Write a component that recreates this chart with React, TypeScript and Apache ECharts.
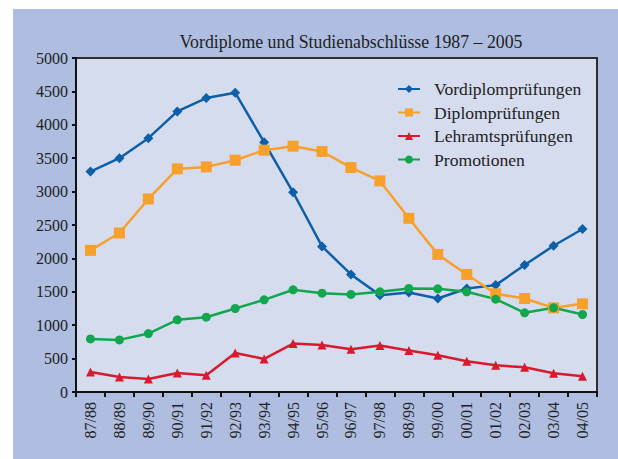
import React, { useEffect, useRef } from "react";
import * as echarts from "echarts";

const categories = ["87/88","88/89","89/90","90/91","91/92","92/93","93/94","94/95","95/96","96/97","97/98","98/99","99/00","00/01","01/02","02/03","03/04","04/05"];
const vordiplom = [3300,3500,3800,4200,4400,4480,3740,2990,2180,1760,1450,1490,1400,1550,1600,1900,2190,2440];
const diplom = [2120,2380,2890,3340,3370,3470,3620,3680,3600,3360,3160,2600,2060,1760,1470,1400,1260,1320];
const lehramt = [300,225,195,285,250,585,495,725,705,640,695,620,550,460,400,370,280,235];
const promotionen = [795,780,875,1080,1120,1250,1380,1530,1480,1460,1500,1550,1545,1500,1390,1185,1260,1160];
const yTicks = [0,500,1000,1500,2000,2500,3000,3500,4000,4500,5000];

const FONT = "Liberation Serif";

export default function App() {
  const ref = useRef<HTMLDivElement>(null);
  useEffect(() => {
    const chart = echarts.init(ref.current!, null, { renderer: "svg" });
    const mk = (name: string, data: number[], color: string, symbol: string, size: number) => ({
      name, type: "line", data, symbol, symbolSize: size,
      itemStyle: { color }, lineStyle: { color, width: 2.5 },
    });
    chart.setOption({
      animation: false,
      title: {
        text: "Vordiplome und Studienabschlüsse 1987 – 2005",
        left: 346, top: 28, textAlign: "center",
        textStyle: { fontFamily: FONT, fontSize: 17.8, fontWeight: "normal", color: "#222" },
      },
      graphic: [
        { type: "rect", z: -100, silent: true, shape: { x: 13, y: 9, width: 605, height: 450 }, style: { fill: "#aebde0" } },
      ],
      legend: {
        orient: "vertical", left: 392, top: 74,
        itemWidth: 22, itemHeight: 10, itemGap: 3.5,
        textStyle: { fontFamily: FONT, fontSize: 17.6, color: "#222", lineHeight: 20, padding: [0, 0, 0, 9] },
        data: ["Vordiplomprüfungen","Diplomprüfungen","Lehramtsprüfungen","Promotionen"],
      },
      grid: {
        left: 76, top: 58, right: 21, bottom: 67, show: true,
        backgroundColor: "#d5dcee", borderColor: "#2e2e2e", borderWidth: 2,
      },
      xAxis: {
        type: "category", data: categories, boundaryGap: true,
        axisLine: { lineStyle: { color: "#111", width: 2 } },
        axisTick: { show: true, length: 5, lineStyle: { color: "#111", width: 2 } },
        axisLabel: { rotate: 90, fontFamily: FONT, fontSize: 16, color: "#222", margin: 10, interval: 0 },
      },
      yAxis: {
        type: "value", min: 0, max: 5000, interval: 500,
        axisLine: { show: true, lineStyle: { color: "#111", width: 2 } },
        axisTick: { show: true, length: 4, lineStyle: { color: "#111", width: 2 } },
        splitLine: { show: false },
        axisLabel: {
          fontFamily: FONT, fontSize: 16, color: "#222", margin: 8,
          formatter: (v: number) => (yTicks.includes(v) ? String(v) : ""),
        },
      },
      series: [
        mk("Vordiplomprüfungen", vordiplom, "#0d60a8", "diamond", 10),
        mk("Diplomprüfungen", diplom, "#f7a02b", "rect", 11),
        mk("Lehramtsprüfungen", lehramt, "#d91a2e", "triangle", 9),
        mk("Promotionen", promotionen, "#12a64e", "circle", 9),
      ],
    });
    return () => chart.dispose();
  }, []);
  return <div ref={ref} style={{ position: "absolute", left: 0, top: 0, width: 618, height: 459 }} />;
}
